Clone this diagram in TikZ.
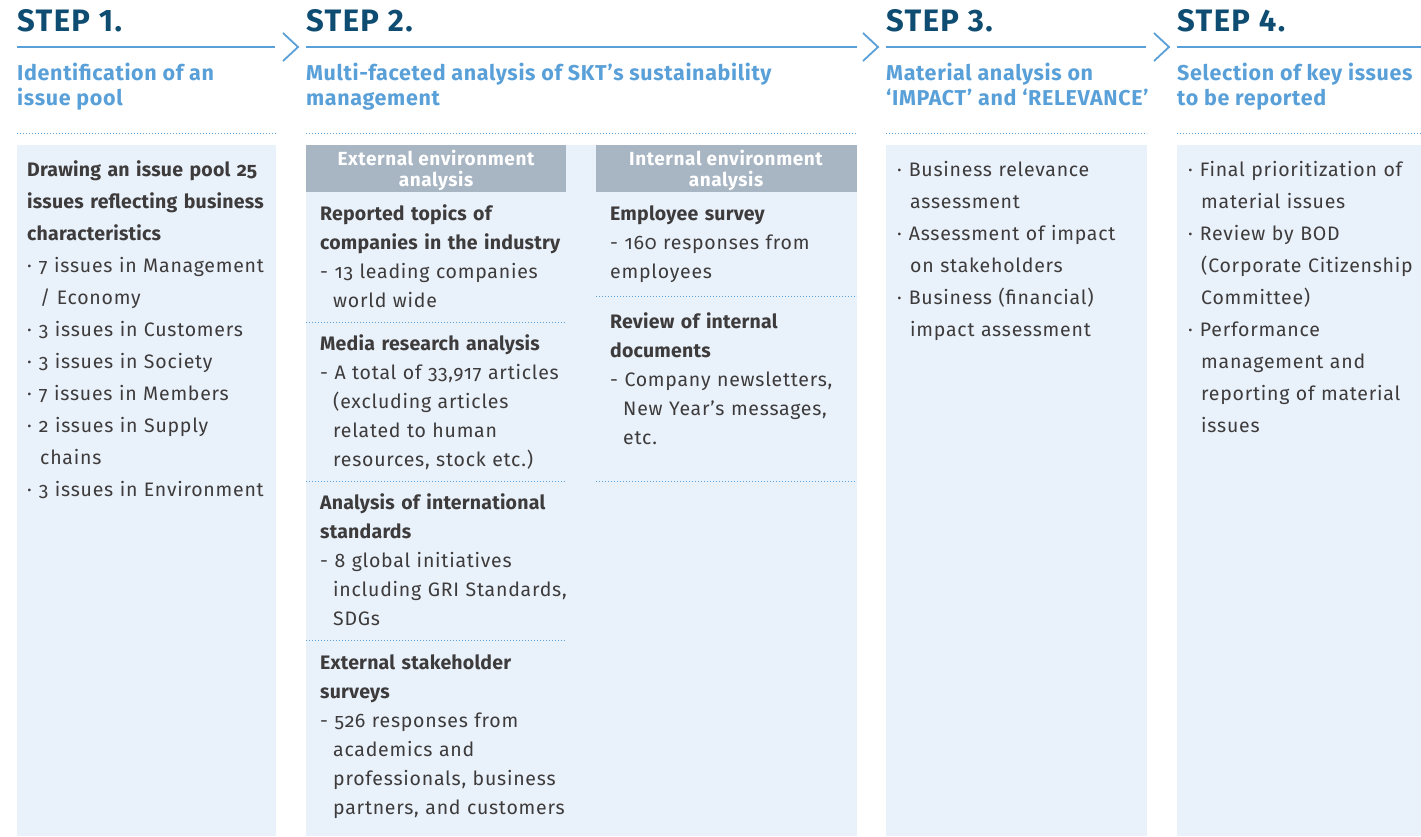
\documentclass[tikz,border=0pt]{standalone}
\usepackage{fontspec}
\setmainfont{Fira Sans}[RawFeature={+onum},LetterSpace=3.9,BoldFeatures={LetterSpace=1.1}]
\newfontfamily\stepfont{Fira Sans}[LetterSpace=4.5]
\newfontfamily\subfont{Fira Sans}[LetterSpace=3]
\newfontfamily\grayfont{Fira Sans}[LetterSpace=3]
\definecolor{navy}{HTML}{0E4C71}
\definecolor{skyline}{HTML}{5AA0D8}
\definecolor{panel}{HTML}{E9F1FA}
\definecolor{headgray}{HTML}{A8B5C3}
\definecolor{bodytext}{HTML}{3D3B3B}
\newcommand{\ind}{\hspace*{13pt}}
\newcommand{\dotitem}{·\hspace{7pt}}
\begin{document}
\begin{tikzpicture}[x=1pt,y=-1pt,
  steptitle/.style={anchor=base west,inner sep=0pt,text=navy,font=\stepfont\bfseries\fontsize{31}{32}\selectfont},
  subtitle/.style={anchor=base west,inner sep=0pt,text=skyline,align=left,font=\subfont\bfseries\fontsize{21.5}{25}\selectfont},
  rule/.style={draw=skyline,line width=2pt},
  chevron/.style={draw=skyline,line width=1.8pt},
  dotsep/.style={draw=skyline,line width=1pt,dash pattern=on 1pt off 2pt},
  panelbox/.style={fill=panel,draw=none},
  graybox/.style={fill=headgray,draw=none},
  grayhead/.style={inner sep=0pt,text=white,align=center,font=\grayfont\bfseries\fontsize{19}{21}\selectfont},
  wide/.style={anchor=base west,inner sep=0pt,text=bodytext,text width=260pt,align=left,font=\fontsize{19.5}{32}\selectfont},
  tight/.style={anchor=base west,inner sep=0pt,text=bodytext,text width=260pt,align=left,font=\fontsize{19.5}{29}\selectfont}]
\useasboundingbox (0,0) rectangle (1421,836);

% step titles
\node[steptitle] (s1) at (17,31) {STEP 1.};
\node[steptitle] (s2) at (306,31) {STEP 2.};
\node[steptitle] (s3) at (886,31) {STEP 3.};
\node[steptitle] (s4) at (1177,31) {STEP 4.};

% rules with chevrons between the steps
\draw[rule] (17,47) -- (275,47);
\draw[rule] (306,47) -- (857,47);
\draw[rule] (886,47) -- (1146,47);
\draw[rule] (1177,47) -- (1421,47);
\draw[chevron] (283,33) -- (298,47) -- (283,61);
\draw[chevron] (863,33) -- (878,47) -- (863,61);
\draw[chevron] (1154,33) -- (1169,47) -- (1154,61);

% subtitles (anchored on the baseline of their last line)
\node[subtitle] (t1) at (17,105) {Identification of an\\issue pool};
\node[subtitle] (t2) at (306,105) {Multi-faceted analysis of SKT’s sustainability\\management};
\node[subtitle] (t3) at (886,105) {Material analysis on\\‘IMPACT’ and ‘RELEVANCE’};
\node[subtitle] (t4) at (1177,105) {Selection of key issues\\to be reported};

% dotted separators under the subtitles
\draw[dotsep] (17,133) -- (276,133);
\draw[dotsep] (306,133) -- (857,133);
\draw[dotsep] (886,133) -- (1147,133);
\draw[dotsep] (1177,133) -- (1421,133);

% panels
\fill[panelbox] (17,145) rectangle (276,836);
\fill[panelbox] (306,145) rectangle (857,836);
\fill[panelbox] (886,145) rectangle (1147,836);
\fill[panelbox] (1177,145) rectangle (1421,836);

% step 1
\node[wide] (p1) at (27,176) {\textbf{Drawing an issue pool 25}\\
\textbf{issues reflecting business}\\
\textbf{characteristics}\\
\dotitem 7 issues in Management\\
\ind / Economy\\
\dotitem 3 issues in Customers\\
\dotitem 3 issues in Society\\
\dotitem 7 issues in Members\\
\dotitem 2 issues in Supply\\
\ind chains\\
\dotitem 3 issues in Environment};

% step 2: headers
\fill[graybox] (306,145) rectangle (566,192);
\fill[graybox] (596,145) rectangle (857,192);
\node[grayhead] (hx) at (436,170) {External environment\\analysis};
\node[grayhead] (hn) at (726,170) {Internal environment\\analysis};

% step 2: external analysis
\node[tight] (e1) at (320,220) {\textbf{Reported topics of}\\
\textbf{companies in the industry}\\
- 13 leading companies\\
\ind world wide};
\draw[dotsep] (306,322) -- (566,322);
\node[tight] (e2) at (320,350) {\textbf{Media research analysis}\\
- A total of 33,917 articles\\
\ind (excluding articles\\
\ind related to human\\
\ind resources, stock etc.)};
\draw[dotsep] (306,481) -- (566,481);
\node[tight] (e3) at (320,509) {\textbf{Analysis of international}\\
\textbf{standards}\\
- 8 global initiatives\\
\ind including GRI Standards,\\
\ind SDGs};
\draw[dotsep] (306,640) -- (566,640);
\node[tight] (e4) at (320,669) {\textbf{External stakeholder}\\
\textbf{surveys}\\
- 526 responses from\\
\ind academics and\\
\ind professionals, business\\
\ind partners, and customers};

% step 2: internal analysis
\node[tight] (i1) at (610,220) {\textbf{Employee survey}\\
- 160 responses from\\
employees};
\draw[dotsep] (596,296) -- (857,296);
\node[tight] (i2) at (610,328) {\textbf{Review of internal}\\
\textbf{documents}\\
- Company newsletters,\\
\ind New Year’s messages,\\
\ind etc.};
\draw[dotsep] (596,481) -- (857,481);

% step 3
\node[wide] (p3) at (897,176) {\dotitem Business relevance\\
\ind assessment\\
\dotitem Assessment of impact\\
\ind on stakeholders\\
\dotitem Business (financial)\\
\ind impact assessment};

% step 4
\node[wide] (p4) at (1188,176) {\dotitem Final prioritization of\\
\ind material issues\\
\dotitem Review by BOD\\
\ind (Corporate Citizenship\\
\ind Committee)\\
\dotitem Performance\\
\ind management and\\
\ind reporting of material\\
\ind issues};
\end{tikzpicture}
\end{document}
